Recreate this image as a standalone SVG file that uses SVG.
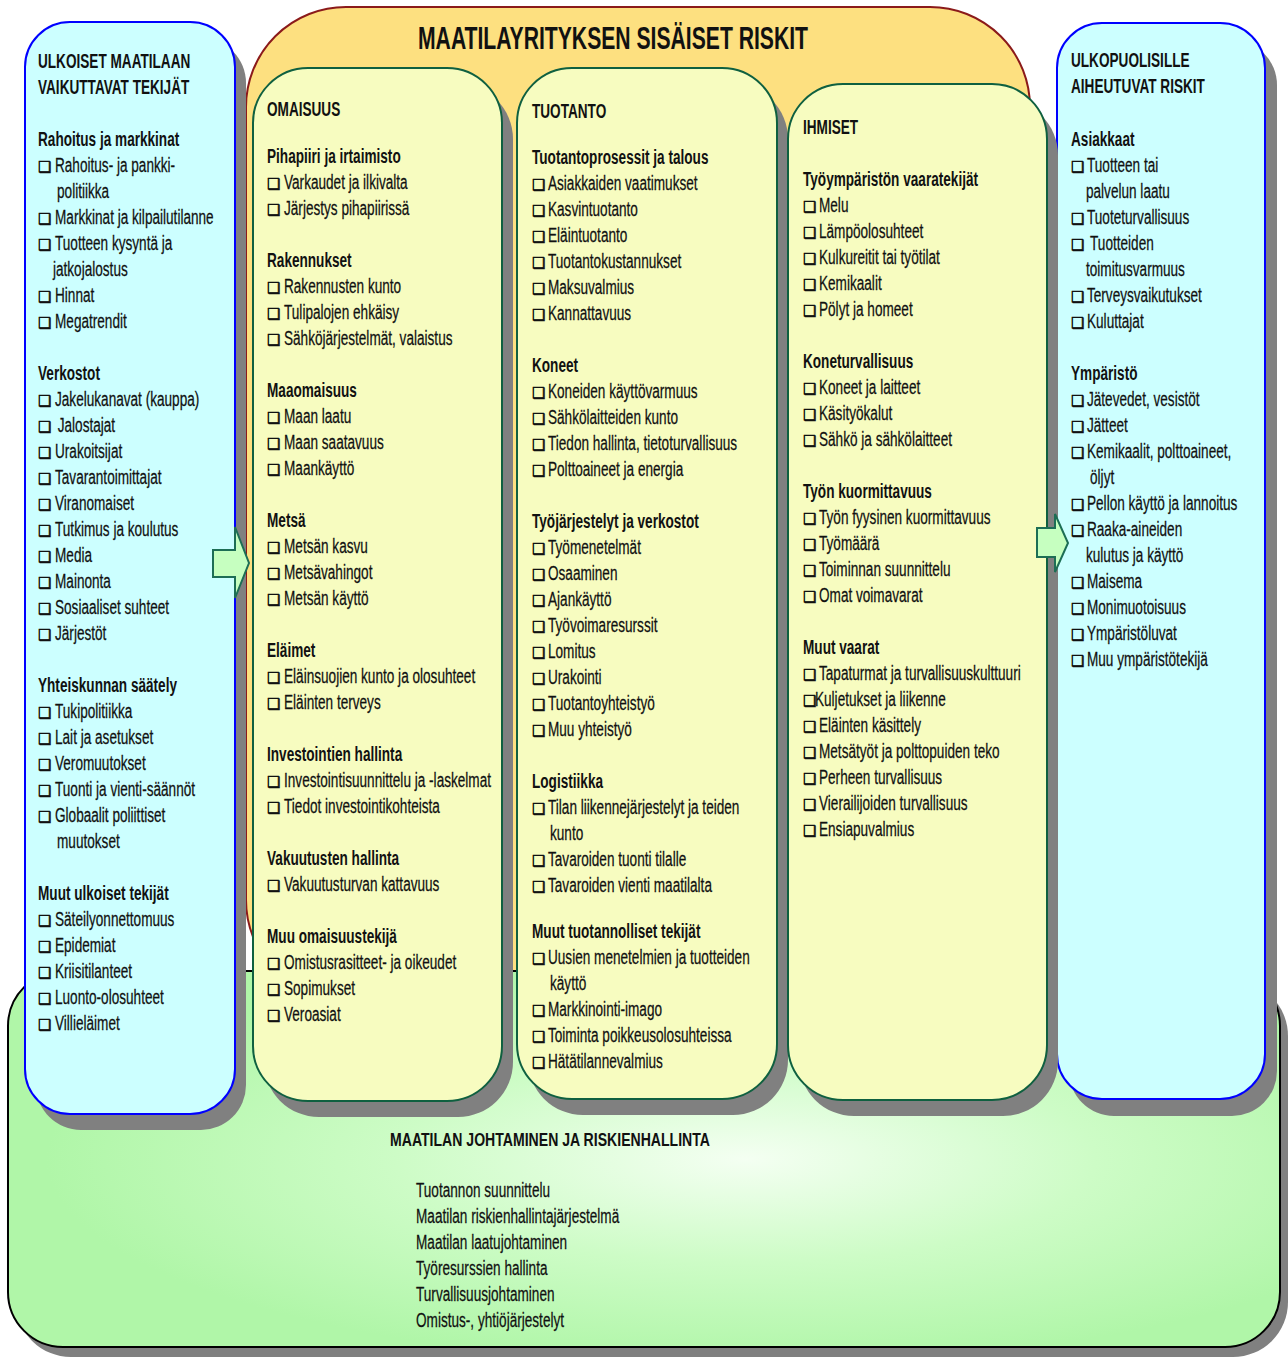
<svg xmlns="http://www.w3.org/2000/svg" width="1288" height="1357" viewBox="0 0 1288 1357">
<defs>
<radialGradient id="gg" cx="0.58" cy="0.5" r="0.55">
<stop offset="0" stop-color="#f4fff2"/>
<stop offset="0.5" stop-color="#cdfcc6"/>
<stop offset="1" stop-color="#b0f6a8"/>
</radialGradient>
</defs>
<style>
.sh{fill:#808080}
.blue{fill:#ccffff;stroke:#0000ff;stroke-width:2}
.yel{fill:#f7fcc0;stroke:#0f6040;stroke-width:2}
.arr{fill:#c6ffc0;stroke:#1d6e55;stroke-width:2}
text{font-family:"Liberation Sans",Arial,sans-serif;fill:#111}
.t{font-size:20px;stroke:#111;stroke-width:0.25}
.h{font-size:20px;font-weight:bold}
.b{font-family:"DejaVu Sans",sans-serif;font-size:15px;font-weight:bold;stroke:#111;stroke-width:0.6}
</style>
<rect width="1288" height="1357" fill="#ffffff"/>
<g id="internal-risks-frame">
<path d="M246,107 A100,100 0 0 1 346,7 L930,7 A100,100 0 0 1 1030,107 L1030,900 A100,100 0 0 1 930,1000 L346,1000 A100,100 0 0 1 246,900 Z" fill="#fde080" stroke="#8b1a1a" stroke-width="2"/>
<text x="418" y="49" font-size="32" font-weight="bold" textLength="390" lengthAdjust="spacingAndGlyphs">MAATILAYRITYKSEN SISÄISET RISKIT</text>
</g>
<g id="management">
<rect class="sh" x="16" y="981" width="1272" height="376" rx="55"/>
<rect x="8" y="971" width="1272" height="376" rx="55" fill="url(#gg)" stroke="#000" stroke-width="2"/>
<text x="390" y="1146" font-size="19" font-weight="bold" textLength="320" lengthAdjust="spacingAndGlyphs">MAATILAN JOHTAMINEN JA RISKIENHALLINTA</text>
<g transform="translate(416,0) scale(0.68,1)">
<text class="t" y="1197">Tuotannon  suunnittelu</text>
<text class="t" y="1223">Maatilan  riskienhallintajärjestelmä</text>
<text class="t" y="1249">Maatilan  laatujohtaminen</text>
<text class="t" y="1275">Työresurssien  hallinta</text>
<text class="t" y="1301">Turvallisuusjohtaminen</text>
<text class="t" y="1327">Omistus-,  yhtiöjärjestelyt</text>
</g>
</g>
<g id="external-factors">
<rect class="sh" x="36" y="38" width="210" height="1092" rx="45"/>
<rect class="blue" x="25" y="22" width="210" height="1092" rx="45"/>
<g transform="translate(38,0) scale(0.68,1)">
<text class="h" y="68">ULKOISET MAATILAAN</text>
<text class="h" y="94">VAIKUTTAVAT  TEKIJÄT</text>
<text class="h" y="146">Rahoitus ja markkinat</text>
<text class="t" x="25" y="172">Rahoitus-  ja  pankki-</text>
<text class="t" x="28" y="198">politiikka</text>
<text class="t" x="25" y="224">Markkinat ja kilpailutilanne</text>
<text class="t" x="25" y="250">Tuotteen  kysyntä ja</text>
<text class="t" x="22" y="276">jatkojalostus</text>
<text class="t" x="25" y="302">Hinnat</text>
<text class="t" x="25" y="328">Megatrendit</text>
<text class="h" y="380">Verkostot</text>
<text class="t" x="25" y="406">Jakelukanavat  (kauppa)</text>
<text class="t" x="29" y="432">Jalostajat</text>
<text class="t" x="25" y="458">Urakoitsijat</text>
<text class="t" x="25" y="484">Tavarantoimittajat</text>
<text class="t" x="25" y="510">Viranomaiset</text>
<text class="t" x="25" y="536">Tutkimus  ja  koulutus</text>
<text class="t" x="25" y="562">Media</text>
<text class="t" x="25" y="588">Mainonta</text>
<text class="t" x="25" y="614">Sosiaaliset  suhteet</text>
<text class="t" x="25" y="640">Järjestöt</text>
<text class="h" y="692">Yhteiskunnan säätely</text>
<text class="t" x="25" y="718">Tukipolitiikka</text>
<text class="t" x="25" y="744">Lait  ja  asetukset</text>
<text class="t" x="25" y="770">Veromuutokset</text>
<text class="t" x="25" y="796">Tuonti  ja  vienti-säännöt</text>
<text class="t" x="25" y="822">Globaalit  poliittiset</text>
<text class="t" x="28" y="848">muutokset</text>
<text class="h" y="900">Muut ulkoiset tekijät</text>
<text class="t" x="25" y="926">Säteilyonnettomuus</text>
<text class="t" x="25" y="952">Epidemiat</text>
<text class="t" x="25" y="978">Kriisitilanteet</text>
<text class="t" x="25" y="1004">Luonto-olosuhteet</text>
<text class="t" x="25" y="1030">Villieläimet</text>
</g>
<g class="bl">
<text class="b" x="38" y="172">❑</text><text class="b" x="38" y="224">❑</text><text class="b" x="38" y="250">❑</text><text class="b" x="38" y="302">❑</text><text class="b" x="38" y="328">❑</text>
<text class="b" x="38" y="406">❑</text><text class="b" x="38" y="432">❑</text><text class="b" x="38" y="458">❑</text><text class="b" x="38" y="484">❑</text><text class="b" x="38" y="510">❑</text><text class="b" x="38" y="536">❑</text><text class="b" x="38" y="562">❑</text><text class="b" x="38" y="588">❑</text><text class="b" x="38" y="614">❑</text><text class="b" x="38" y="640">❑</text>
<text class="b" x="38" y="718">❑</text><text class="b" x="38" y="744">❑</text><text class="b" x="38" y="770">❑</text><text class="b" x="38" y="796">❑</text><text class="b" x="38" y="822">❑</text>
<text class="b" x="38" y="926">❑</text><text class="b" x="38" y="952">❑</text><text class="b" x="38" y="978">❑</text><text class="b" x="38" y="1004">❑</text><text class="b" x="38" y="1030">❑</text>
</g>
</g>
<g id="external-risks">
<rect class="sh" x="1069" y="40" width="208" height="1076" rx="45"/>
<rect class="blue" x="1057" y="23" width="208" height="1076" rx="45"/>
<g transform="translate(1071,0) scale(0.68,1)">
<text class="h" y="67">ULKOPUOLISILLE</text>
<text class="h" y="93">AIHEUTUVAT  RISKIT</text>
<text class="h" y="146">Asiakkaat</text>
<text class="t" x="23.5" y="172">Tuotteen  tai</text>
<text class="t" x="22" y="198">palvelun  laatu</text>
<text class="t" x="23.5" y="224">Tuoteturvallisuus</text>
<text class="t" x="28" y="250">Tuotteiden</text>
<text class="t" x="22" y="276">toimitusvarmuus</text>
<text class="t" x="23.5" y="302">Terveysvaikutukset</text>
<text class="t" x="23.5" y="328">Kuluttajat</text>
<text class="h" y="380">Ympäristö</text>
<text class="t" x="23.5" y="406">Jätevedet,  vesistöt</text>
<text class="t" x="23.5" y="432">Jätteet</text>
<text class="t" x="23.5" y="458">Kemikaalit,  polttoaineet,</text>
<text class="t" x="28" y="484">öljyt</text>
<text class="t" x="23.5" y="510">Pellon käyttö ja lannoitus</text>
<text class="t" x="23.5" y="536">Raaka-aineiden</text>
<text class="t" x="22" y="562">kulutus  ja  käyttö</text>
<text class="t" x="23.5" y="588">Maisema</text>
<text class="t" x="23.5" y="614">Monimuotoisuus</text>
<text class="t" x="23.5" y="640">Ympäristöluvat</text>
<text class="t" x="23.5" y="666">Muu  ympäristötekijä</text>
</g>
<g>
<text class="b" x="1071" y="172">❑</text><text class="b" x="1071" y="224">❑</text><text class="b" x="1071" y="250">❑</text><text class="b" x="1071" y="302">❑</text><text class="b" x="1071" y="328">❑</text>
<text class="b" x="1071" y="406">❑</text><text class="b" x="1071" y="432">❑</text><text class="b" x="1071" y="458">❑</text><text class="b" x="1071" y="510">❑</text><text class="b" x="1071" y="536">❑</text><text class="b" x="1071" y="588">❑</text><text class="b" x="1071" y="614">❑</text><text class="b" x="1071" y="640">❑</text><text class="b" x="1071" y="666">❑</text>
</g>
</g>
<g id="omaisuus">
<rect class="sh" x="264" y="84" width="249" height="1033" rx="55"/>
<rect class="yel" x="253" y="68" width="249" height="1033" rx="55"/>
<g transform="translate(267,0) scale(0.68,1)">
<text class="h" y="116">OMAISUUS</text>
<text class="h" y="163">Pihapiiri ja irtaimisto</text>
<text class="t" x="25" y="189">Varkaudet ja ilkivalta</text>
<text class="t" x="25" y="215">Järjestys pihapiirissä</text>
<text class="h" y="267">Rakennukset</text>
<text class="t" x="25" y="293">Rakennusten  kunto</text>
<text class="t" x="25" y="319">Tulipalojen  ehkäisy</text>
<text class="t" x="25" y="345">Sähköjärjestelmät,  valaistus</text>
<text class="h" y="397">Maaomaisuus</text>
<text class="t" x="25" y="423">Maan laatu</text>
<text class="t" x="25" y="449">Maan saatavuus</text>
<text class="t" x="25" y="475">Maankäyttö</text>
<text class="h" y="527">Metsä</text>
<text class="t" x="25" y="553">Metsän kasvu</text>
<text class="t" x="25" y="579">Metsävahingot</text>
<text class="t" x="25" y="605">Metsän käyttö</text>
<text class="h" y="657">Eläimet</text>
<text class="t" x="25" y="683">Eläinsuojien kunto ja olosuhteet</text>
<text class="t" x="25" y="709">Eläinten  terveys</text>
<text class="h" y="761">Investointien hallinta</text>
<text class="t" x="25" y="787">Investointisuunnittelu  ja  -laskelmat</text>
<text class="t" x="25" y="813">Tiedot  investointikohteista</text>
<text class="h" y="865">Vakuutusten hallinta</text>
<text class="t" x="25" y="891">Vakuutusturvan  kattavuus</text>
<text class="h" y="943">Muu omaisuustekijä</text>
<text class="t" x="25" y="969">Omistusrasitteet-  ja oikeudet</text>
<text class="t" x="25" y="995">Sopimukset</text>
<text class="t" x="25" y="1021">Veroasiat</text>
</g>
<g>
<text class="b" x="267" y="189">❑</text><text class="b" x="267" y="215">❑</text>
<text class="b" x="267" y="293">❑</text><text class="b" x="267" y="319">❑</text><text class="b" x="267" y="345">❑</text>
<text class="b" x="267" y="423">❑</text><text class="b" x="267" y="449">❑</text><text class="b" x="267" y="475">❑</text>
<text class="b" x="267" y="553">❑</text><text class="b" x="267" y="579">❑</text><text class="b" x="267" y="605">❑</text>
<text class="b" x="267" y="683">❑</text><text class="b" x="267" y="709">❑</text>
<text class="b" x="267" y="787">❑</text><text class="b" x="267" y="813">❑</text>
<text class="b" x="267" y="891">❑</text>
<text class="b" x="267" y="969">❑</text><text class="b" x="267" y="995">❑</text><text class="b" x="267" y="1021">❑</text>
</g>
</g>
<g id="tuotanto">
<rect class="sh" x="528" y="84" width="260" height="1031" rx="55"/>
<rect class="yel" x="517" y="68" width="260" height="1031" rx="55"/>
<g transform="translate(532,0) scale(0.68,1)">
<text class="h" y="118">TUOTANTO</text>
<text class="h" y="164">Tuotantoprosessit ja talous</text>
<text class="t" x="23.5" y="190">Asiakkaiden vaatimukset</text>
<text class="t" x="23.5" y="216">Kasvintuotanto</text>
<text class="t" x="23.5" y="242">Eläintuotanto</text>
<text class="t" x="23.5" y="268">Tuotantokustannukset</text>
<text class="t" x="23.5" y="294">Maksuvalmius</text>
<text class="t" x="23.5" y="320">Kannattavuus</text>
<text class="h" y="372">Koneet</text>
<text class="t" x="23.5" y="398">Koneiden käyttövarmuus</text>
<text class="t" x="23.5" y="424">Sähkölaitteiden  kunto</text>
<text class="t" x="23.5" y="450">Tiedon hallinta,  tietoturvallisuus</text>
<text class="t" x="23.5" y="476">Polttoaineet  ja  energia</text>
<text class="h" y="528">Työjärjestelyt  ja  verkostot</text>
<text class="t" x="23.5" y="554">Työmenetelmät</text>
<text class="t" x="23.5" y="580">Osaaminen</text>
<text class="t" x="23.5" y="606">Ajankäyttö</text>
<text class="t" x="23.5" y="632">Työvoimaresurssit</text>
<text class="t" x="23.5" y="658">Lomitus</text>
<text class="t" x="23.5" y="684">Urakointi</text>
<text class="t" x="23.5" y="710">Tuotantoyhteistyö</text>
<text class="t" x="23.5" y="736">Muu  yhteistyö</text>
<text class="h" y="788">Logistiikka</text>
<text class="t" x="23.5" y="814">Tilan  liikennejärjestelyt  ja teiden</text>
<text class="t" x="26.5" y="840">kunto</text>
<text class="t" x="23.5" y="866">Tavaroiden  tuonti  tilalle</text>
<text class="t" x="23.5" y="892">Tavaroiden  vienti  maatilalta</text>
<text class="h" y="938">Muut tuotannolliset  tekijät</text>
<text class="t" x="23.5" y="964">Uusien  menetelmien  ja  tuotteiden</text>
<text class="t" x="26.5" y="990">käyttö</text>
<text class="t" x="23.5" y="1016">Markkinointi-imago</text>
<text class="t" x="23.5" y="1042">Toiminta  poikkeusolosuhteissa</text>
<text class="t" x="23.5" y="1068">Hätätilannevalmius</text>
</g>
<g>
<text class="b" x="532" y="190">❑</text><text class="b" x="532" y="216">❑</text><text class="b" x="532" y="242">❑</text><text class="b" x="532" y="268">❑</text><text class="b" x="532" y="294">❑</text><text class="b" x="532" y="320">❑</text>
<text class="b" x="532" y="398">❑</text><text class="b" x="532" y="424">❑</text><text class="b" x="532" y="450">❑</text><text class="b" x="532" y="476">❑</text>
<text class="b" x="532" y="554">❑</text><text class="b" x="532" y="580">❑</text><text class="b" x="532" y="606">❑</text><text class="b" x="532" y="632">❑</text><text class="b" x="532" y="658">❑</text><text class="b" x="532" y="684">❑</text><text class="b" x="532" y="710">❑</text><text class="b" x="532" y="736">❑</text>
<text class="b" x="532" y="814">❑</text><text class="b" x="532" y="866">❑</text><text class="b" x="532" y="892">❑</text>
<text class="b" x="532" y="964">❑</text><text class="b" x="532" y="1016">❑</text><text class="b" x="532" y="1042">❑</text><text class="b" x="532" y="1068">❑</text>
</g>
</g>
<g id="ihmiset">
<rect class="sh" x="799" y="100" width="259" height="1016" rx="55"/>
<rect class="yel" x="788" y="84" width="259" height="1016" rx="55"/>
<g transform="translate(803,0) scale(0.68,1)">
<text class="h" y="134">IHMISET</text>
<text class="h" y="186">Työympäristön  vaaratekijät</text>
<text class="t" x="23.5" y="212">Melu</text>
<text class="t" x="23.5" y="238">Lämpöolosuhteet</text>
<text class="t" x="23.5" y="264">Kulkureitit  tai  työtilat</text>
<text class="t" x="23.5" y="290">Kemikaalit</text>
<text class="t" x="23.5" y="316">Pölyt ja homeet</text>
<text class="h" y="368">Koneturvallisuus</text>
<text class="t" x="23.5" y="394">Koneet  ja laitteet</text>
<text class="t" x="23.5" y="420">Käsityökalut</text>
<text class="t" x="23.5" y="446">Sähkö  ja  sähkölaitteet</text>
<text class="h" y="498">Työn kuormittavuus</text>
<text class="t" x="23.5" y="524">Työn fyysinen kuormittavuus</text>
<text class="t" x="23.5" y="550">Työmäärä</text>
<text class="t" x="23.5" y="576">Toiminnan  suunnittelu</text>
<text class="t" x="23.5" y="602">Omat  voimavarat</text>
<text class="h" y="654">Muut vaarat</text>
<text class="t" x="23.5" y="680">Tapaturmat  ja  turvallisuuskulttuuri</text>
<text class="t" x="17.6" y="706">Kuljetukset  ja  liikenne</text>
<text class="t" x="23.5" y="732">Eläinten  käsittely</text>
<text class="t" x="23.5" y="758">Metsätyöt  ja  polttopuiden  teko</text>
<text class="t" x="23.5" y="784">Perheen  turvallisuus</text>
<text class="t" x="23.5" y="810">Vierailijoiden  turvallisuus</text>
<text class="t" x="23.5" y="836">Ensiapuvalmius</text>
</g>
<g>
<text class="b" x="803" y="212">❑</text><text class="b" x="803" y="238">❑</text><text class="b" x="803" y="264">❑</text><text class="b" x="803" y="290">❑</text><text class="b" x="803" y="316">❑</text>
<text class="b" x="803" y="394">❑</text><text class="b" x="803" y="420">❑</text><text class="b" x="803" y="446">❑</text>
<text class="b" x="803" y="524">❑</text><text class="b" x="803" y="550">❑</text><text class="b" x="803" y="576">❑</text><text class="b" x="803" y="602">❑</text>
<text class="b" x="803" y="680">❑</text><text class="b" x="803" y="706">❑</text><text class="b" x="803" y="732">❑</text><text class="b" x="803" y="758">❑</text><text class="b" x="803" y="784">❑</text><text class="b" x="803" y="810">❑</text><text class="b" x="803" y="836">❑</text>
</g>
</g>
<g id="connectors">
<polygon class="arr" points="213,550 235,550 235,527 249,563 235,598 235,577 213,577"/>
<polygon class="arr" points="1037,528 1055,528 1055,514 1068,543 1055,572 1055,557 1037,557"/>
</g>
</svg>
